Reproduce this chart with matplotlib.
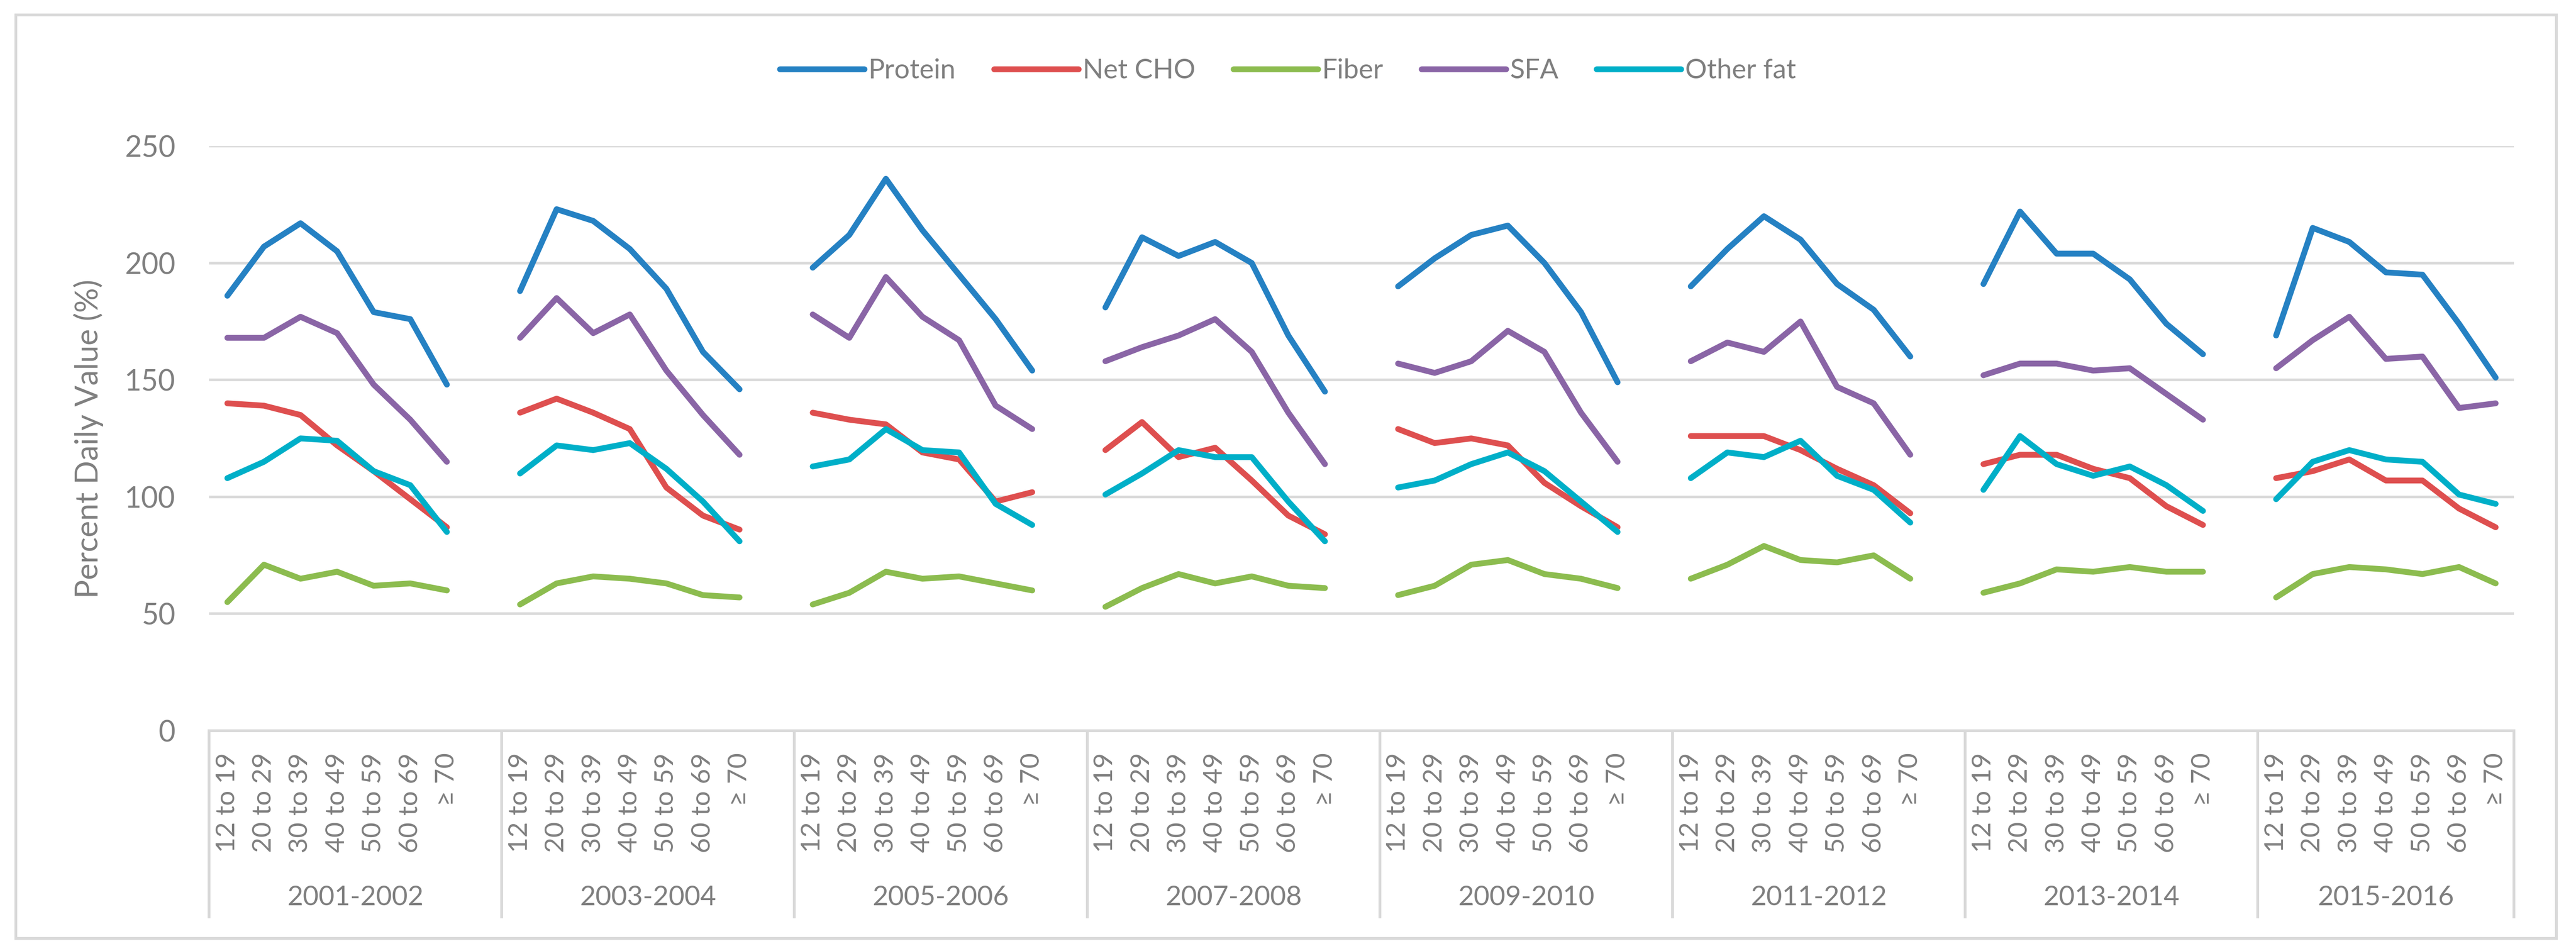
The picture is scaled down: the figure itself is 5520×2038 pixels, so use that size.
import matplotlib
matplotlib.use("Agg")
import matplotlib.pyplot as plt
import matplotlib.transforms as mtransforms
from matplotlib.patches import Rectangle
import numpy as np

plt.rcParams['font.family'] = ['Lato', 'DejaVu Sans']

# 数据：8个调查周期，每个周期7个年龄组
periods = ["2001-2002", "2003-2004", "2005-2006", "2007-2008",
           "2009-2010", "2011-2012", "2013-2014", "2015-2016"]
ages = ["12 to 19", "20 to 29", "30 to 39", "40 to 49", "50 to 59", "60 to 69", "\u2265 70"]

protein = [[186, 207, 217, 205, 179, 176, 148],
           [188, 223, 218, 206, 189, 162, 146],
           [198, 212, 236, 214, 195, 176, 154],
           [181, 211, 203, 209, 200, 169, 145],
           [190, 202, 212, 216, 200, 179, 149],
           [190, 206, 220, 210, 191, 180, 160],
           [191, 222, 204, 204, 193, 174, 161],
           [169, 215, 209, 196, 195, 174, 151]]
net_cho = [[140, 139, 135, 122, 111, 99, 87],
           [136, 142, 136, 129, 104, 92, 86],
           [136, 133, 131, 119, 116, 98, 102],
           [120, 132, 117, 121, 107, 92, 84],
           [129, 123, 125, 122, 106, 96, 87],
           [126, 126, 126, 120, 112, 105, 93],
           [114, 118, 118, 112, 108, 96, 88],
           [108, 111, 116, 107, 107, 95, 87]]
fiber = [[55, 71, 65, 68, 62, 63, 60],
         [54, 63, 66, 65, 63, 58, 57],
         [54, 59, 68, 65, 66, 63, 60],
         [53, 61, 67, 63, 66, 62, 61],
         [58, 62, 71, 73, 67, 65, 61],
         [65, 71, 79, 73, 72, 75, 65],
         [59, 63, 69, 68, 70, 68, 68],
         [57, 67, 70, 69, 67, 70, 63]]
sfa = [[168, 168, 177, 170, 148, 133, 115],
       [168, 185, 170, 178, 154, 135, 118],
       [178, 168, 194, 177, 167, 139, 129],
       [158, 164, 169, 176, 162, 136, 114],
       [157, 153, 158, 171, 162, 136, 115],
       [158, 166, 162, 175, 147, 140, 118],
       [152, 157, 157, 154, 155, 144, 133],
       [155, 167, 177, 159, 160, 138, 140]]
other_fat = [[108, 115, 125, 124, 111, 105, 85],
             [110, 122, 120, 123, 112, 98, 81],
             [113, 116, 129, 120, 119, 97, 88],
             [101, 110, 120, 117, 117, 98, 81],
             [104, 107, 114, 119, 111, 98, 85],
             [108, 119, 117, 124, 109, 103, 89],
             [103, 126, 114, 109, 113, 105, 94],
             [99, 115, 120, 116, 115, 101, 97]]

series_names = ["Protein", "Net CHO", "Fiber", "SFA", "Other fat"]
series_data = [protein, net_cho, fiber, sfa, other_fat]
series_colors = ["#2581C3", "#DE4F4F", "#8CBC4F", "#8A65A6", "#00AFC8"]

grey = "#7F7F7F"
light = "#D9D9D9"

W, H = 5520, 2038
fig = plt.figure(figsize=(W / 100, H / 100), dpi=100)
ax = fig.add_axes([448 / W, (H - 1566) / H, (5387 - 448) / W, (1566 - 313) / H])

# 每组7个年龄 + 1个空位
slot = 8
handles = []
for name, data, color in zip(series_names, series_data, series_colors):
    for g, vals in enumerate(data):
        xs = g * slot + np.arange(len(vals))
        line, = ax.plot(xs, vals, color=color, lw=9, solid_capstyle='round',
                        solid_joinstyle='round')
        if g == 0:
            line.set_label(name)
            handles.append(line)

ax.set_xlim(-0.5, len(periods) * slot - 1.5)
ax.set_ylim(0, 250)
ax.set_yticks(range(0, 251, 50))
ax.yaxis.grid(True, color=light, lw=4)
ax.set_axisbelow(True)
for s in ["top", "left", "right"]:
    ax.spines[s].set_visible(False)
ax.spines["bottom"].set_color(light)
ax.spines["bottom"].set_linewidth(4.3)

xticks = [g * slot + a for g in range(len(periods)) for a in range(len(ages))]
ax.set_xticks(xticks)
ax.set_xticklabels(ages * len(periods), rotation=90)
ax.tick_params(axis='x', length=0, pad=34, labelsize=41, labelcolor=grey)
ax.tick_params(axis='y', length=0, pad=52, labelsize=45, labelcolor=grey)

# 组分隔线和年份标签
trans = mtransforms.blended_transform_factory(ax.transData, ax.transAxes)
bounds = [-0.5] + [g * slot + 7.5 for g in range(len(periods) - 1)] + [len(periods) * slot - 1.5]
for b in bounds:
    ax.plot([b, b], [0, -0.321], transform=trans, clip_on=False,
            color=light, lw=4.3, solid_capstyle='butt')
for g, p in enumerate(periods):
    ax.text((bounds[g] + bounds[g + 1]) / 2, -0.285, p, transform=trans,
            ha='center', va='center', fontsize=42, color=grey)

fig.text(190 / W, 1 - 940 / H, "Percent Daily Value (%)", rotation=90,
         ha='center', va='center', fontsize=48, color=grey)

fig.legend(handles=handles, loc='center', bbox_to_anchor=(0.5, 1 - 152 / H), ncol=5,
           frameon=False, fontsize=42, labelcolor=grey, handlelength=3.1,
           handletextpad=0.15, columnspacing=1.4)

# 外框
fig.add_artist(Rectangle((34 / W, (H - 2011) / H), (5478 - 34) / W, (2011 - 32) / H,
                         transform=fig.transFigure, fill=False, ec=light, lw=4.3))

fig.savefig("out.png", dpi=100, facecolor="white")
